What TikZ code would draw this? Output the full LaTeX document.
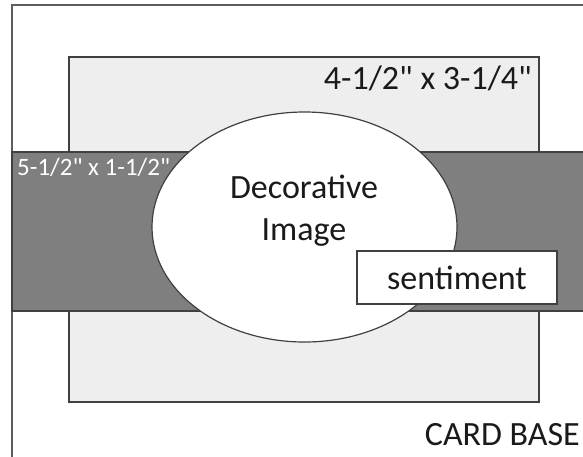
\documentclass[tikz,border=0pt]{standalone}
\usepackage{fontspec}
\setmainfont{Carlito}
\newfontfamily\carlito{Carlito}
\definecolor{bandfill}{HTML}{7F7F7F}
\definecolor{edge}{HTML}{404040}
\definecolor{paperfill}{HTML}{EEEEEE}
\definecolor{ink}{HTML}{1A1A1A}
\begin{document}
\begin{tikzpicture}[x=1pt,y=-1pt,
  cardline/.style={draw=edge!85, line width=2pt},
  paper/.style={draw=edge, fill=paperfill, line width=1.4pt},
  bandstyle/.style={draw=edge, fill=bandfill, line width=1.4pt},
  imgstyle/.style={draw=edge, fill=white, line width=1.2pt},
  sentbox/.style={draw=edge, fill=white, line width=1.2pt},
  bigtext/.style={inner sep=0pt, text=ink, font=\carlito\fontsize{34}{42}\selectfont},
  smalltext/.style={inner sep=0pt, text=white, font=\carlito\fontsize{25}{30}\selectfont}]
\useasboundingbox (0,0) rectangle (583,456);
% card base
\draw[cardline] (12,460) -- (12,5) -- (590,5);
% 4-1/2 x 3-1/4 layer
\path[paper] (69,57) rectangle (539,402);
% 5-1/2 x 1-1/2 band
\path[bandstyle] (12,152) rectangle (595,311);
\node[smalltext, anchor=base west] (bandlbl) at (17,175) {5-1/2" x 1-1/2"};
% decorative image
\path[imgstyle] (304.5,227) ellipse [x radius=152.5, y radius=115];
\node[bigtext, anchor=base] (deco) at (304,198) {Decorative};
\node[bigtext, anchor=base] (image) at (304,240) {Image};
% sentiment
\path[sentbox] (357,251) rectangle (557,304);
\node[bigtext, anchor=base] (sent) at (457,289) {sentiment};
% labels
\node[bigtext, anchor=base east] (paperlbl) at (532,89) {4-1/2" x 3-1/4"};
\node[bigtext, anchor=base east] (cardlbl) at (580,445) {CARD BASE};
\end{tikzpicture}
\end{document}
